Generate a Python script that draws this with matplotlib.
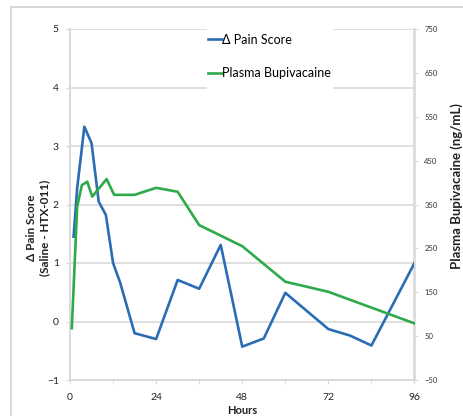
import matplotlib
matplotlib.use("Agg")
import matplotlib.pyplot as plt
from matplotlib.patches import Rectangle
from matplotlib.lines import Line2D

plt.rcParams['font.family'] = ['Lato', 'DejaVu Sans']

# Data
pain_hours = [1, 2, 4, 6, 8, 10, 12, 14, 18, 24, 30, 36, 42, 48, 54, 60, 72, 78, 84, 96]
pain_score = [1.45, 2.28, 3.33, 3.05, 2.05, 1.82, 1.0, 0.66, -0.2, -0.3, 0.71, 0.56, 1.31,
              -0.43, -0.29, 0.49, -0.13, -0.24, -0.41, 1.0]
bupi_hours = [0.5, 2, 3.3, 4.8, 6.2, 10.2, 12.3, 18, 24, 30, 36, 48, 60, 72, 96]
bupi_conc = [68, 345, 394, 402, 368, 408, 372, 372, 388, 379, 303, 255, 174, 151, 79]

x_ticks = [0, 24, 48, 72, 96]
x_minor = [12, 36, 60, 84]
left_ticks = [-1, 0, 1, 2, 3, 4, 5]
right_ticks = [-50, 50, 150, 250, 350, 450, 550, 650, 750]
series_names = ['Δ Pain Score', 'Plasma Bupivacaine']

blue = '#2a6db5'
green = '#2eaa4a'
grid_c = '#d9d9d9'

W, H = 464, 416
fig = plt.figure(figsize=(W/100, H/100), dpi=100)
fig.patches.append(Rectangle((11/W, -0.1), 1.2, 1.1 - 7/H, transform=fig.transFigure,
                             fill=False, edgecolor='#d0d0d0', linewidth=1.2, zorder=0))

ax_l, ax_r, ax_t, ax_b = 70, 414.5, 29, 380
aw, ah = ax_r - ax_l, ax_b - ax_t
ax = fig.add_axes([ax_l/W, 1 - ax_b/H, aw/W, ah/H])
ax2 = ax.twinx()

ax.plot(pain_hours, pain_score, color=blue, lw=1.9, zorder=3)
ax2.plot(bupi_hours, bupi_conc, color=green, lw=1.9, zorder=3)

ax.set_xlim(0, 96)
ax.set_ylim(-1, 5)
ax2.set_ylim(-50, 750)
ax.set_xticks(x_ticks)
ax.set_xticks(x_minor, minor=True)
ax.set_yticks(left_ticks)
ax2.set_yticks(right_ticks)

ax.grid(axis='y', color=grid_c, lw=1.2)
ax.set_axisbelow(True)

for a in (ax, ax2):
    a.spines['top'].set_visible(False)
    for s in ('left', 'right', 'bottom'):
        a.spines[s].set_color(grid_c)
        a.spines[s].set_linewidth(1.2)

ax.tick_params(axis='x', which='both', length=3, color=grid_c, labelsize=7.5, pad=6, labelcolor='#222222')
ax.tick_params(axis='y', length=3, color=grid_c, labelsize=7.5, pad=5, labelcolor='#222222')
ax2.tick_params(axis='y', length=2, color=grid_c, labelsize=5.5, pad=5, labelcolor='#333333')

fig.text(38/W, 1 - 228/H, 'Δ Pain Score\n(Saline - HTX-011)', rotation=90, ha='center', va='center',
         fontsize=8.5, fontweight='bold', linespacing=1.2, color='#222222')
fig.text(457/W, 1 - 186/H, 'Plasma Bupivacaine (ng/mL)', rotation=90, ha='center', va='center',
         fontsize=9.5, fontweight='bold', color='#222222')
fig.text(242/W, 1 - 411/H, 'Hours', ha='center', va='center', fontsize=8, fontweight='bold', color='#222222')

# white area behind legend (covers gridlines)
ax.add_patch(Rectangle(((207 - ax_l)/aw, 1 - (90 - ax_t)/ah), (333 - 207)/aw, (90 - 24)/ah,
                       transform=ax.transAxes, facecolor='white', edgecolor='none',
                       zorder=1, clip_on=False))

handles = [Line2D([], [], color=blue, lw=1.9), Line2D([], [], color=green, lw=1.9)]
leg = ax2.legend(handles, series_names, loc='upper left',
                 bbox_to_anchor=((208 - ax_l)/aw, 1 - (33.5 - ax_t)/ah), fontsize=9, handlelength=1.1,
                 handletextpad=0.05, labelspacing=1.72, frameon=False,
                 borderpad=0, borderaxespad=0)

fig.savefig('out.png', dpi=100)
